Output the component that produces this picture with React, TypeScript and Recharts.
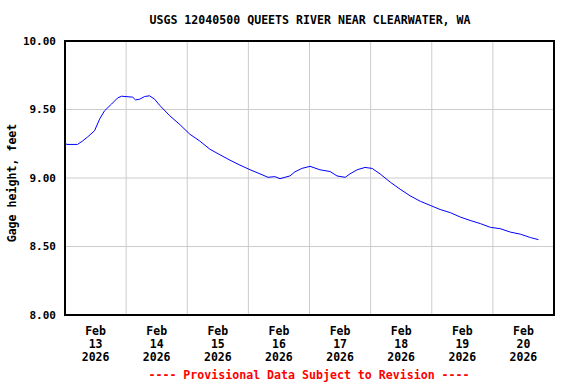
import React from "react";
import {
  LineChart,
  Line,
  XAxis,
  YAxis,
  CartesianGrid,
  ReferenceArea,
} from "recharts";

// Hours since Feb 13 2026 00:00
const hours = [
  0, 0.6, 4.9, 6.9, 8.9, 11.6, 13.6, 15.5, 18.3, 20.7, 22.2, 26.6, 27.7, 29.3,
  31.3, 33.2, 35.2, 37.2, 41.1, 45.1, 49.0, 52.9, 56.9, 60.8, 64.8, 68.7, 72.7,
  76.6, 79.7, 82.4, 84.4, 88.3, 90.3, 93.0, 96.2, 100.1, 104.1, 106.8, 110.0,
  111.9, 114.7, 117.8, 120.6, 123.7, 127.7, 131.6, 135.5, 139.5, 143.4, 147.3,
  151.3, 155.2, 159.1, 163.1, 167.0, 170.9, 174.9, 178.8, 182.8, 185.9,
];
const gage = [
  9.26, 9.245, 9.245, 9.27, 9.3, 9.345, 9.43, 9.49, 9.54, 9.585, 9.597, 9.59,
  9.57, 9.575, 9.595, 9.6, 9.575, 9.53, 9.455, 9.39, 9.32, 9.27, 9.21, 9.17,
  9.13, 9.094, 9.06, 9.03, 9.005, 9.01, 8.995, 9.015, 9.045, 9.07, 9.085, 9.06,
  9.047, 9.015, 9.005, 9.03, 9.06, 9.077, 9.07, 9.03, 8.97, 8.918, 8.87, 8.83,
  8.8, 8.77, 8.747, 8.715, 8.69, 8.667, 8.64, 8.63, 8.605, 8.59, 8.565, 8.55,
];
const dayLabels = ["13", "14", "15", "16", "17", "18", "19", "20"];
const labelTicks = [12, 36, 60, 84, 108, 132, 156, 180];
const gridTicks = [24, 48, 72, 96, 120, 144, 168];
const yTicks = [8, 8.5, 9, 9.5, 10];

const data = hours.map((h, i) => ({ h, v: gage[i] }));

const FONT = "'DejaVu Sans Mono', monospace";

const DateTick = (props: any) => {
  const { x, y, index } = props;
  return (
    <g>
      <text x={x} y={y + 20} textAnchor="middle" fontFamily={FONT} fontWeight="bold" fontSize={11.5} fill="#000">Feb</text>
      <text x={x} y={y + 33} textAnchor="middle" fontFamily={FONT} fontWeight="bold" fontSize={11.5} fill="#000">{dayLabels[index]}</text>
      <text x={x} y={y + 46} textAnchor="middle" fontFamily={FONT} fontWeight="bold" fontSize={11.5} fill="#000">2026</text>
    </g>
  );
};

export default function App() {
  return (
    <div style={{ position: "absolute", left: 0, top: 0, width: 576, height: 384, background: "#fff" }}>
      <div
        style={{
          position: "absolute", left: 0, width: 620, top: 13, textAlign: "center",
          fontFamily: FONT, fontWeight: "bold", fontSize: 11.6, color: "#000", whiteSpace: "pre",
        }}
      >
        USGS 12040500 QUEETS RIVER NEAR CLEARWATER, WA
      </div>
      <div
        style={{
          position: "absolute", left: 12, top: 183, width: 0, height: 0,
        }}
      >
        <div
          style={{
            position: "absolute", transform: "translate(-50%, -50%) rotate(-90deg)",
            fontFamily: FONT, fontWeight: "bold", fontSize: 11.6, color: "#000", whiteSpace: "pre",
          }}
        >
          Gage height, feet
        </div>
      </div>
      <div
        style={{
          position: "absolute", left: 0, width: 618, top: 368, textAlign: "center",
          fontFamily: FONT, fontWeight: "bold", fontSize: 11.6, color: "#ff0000", whiteSpace: "pre",
        }}
      >
        ---- Provisional Data Subject to Revision ----
      </div>
      <LineChart
        width={576}
        height={384}
        data={data}
        margin={{ top: 41, right: 22, bottom: 20, left: 0 }}
        style={{ position: "absolute", left: 0, top: 0 }}
      >
        <CartesianGrid xAxisId="grid" stroke="#cccccc" strokeWidth={1} />
        <XAxis
          xAxisId="grid"
          dataKey="h"
          type="number"
          domain={[0, 192]}
          ticks={gridTicks}
          hide
          allowDataOverflow
        />
        <XAxis
          dataKey="h"
          type="number"
          domain={[0, 192]}
          ticks={labelTicks}
          interval={0}
          axisLine={false}
          tickLine={false}
          tickSize={0}
          tickMargin={0}
          height={49}
          tick={<DateTick />}
          allowDataOverflow
        />
        <YAxis
          type="number"
          domain={[8, 10]}
          ticks={yTicks}
          interval={0}
          width={65}
          axisLine={false}
          tickLine={false}
          tickSize={0}
          tickMargin={9}
          tickFormatter={(v: number) => v.toFixed(2)}
          tick={{ fontFamily: FONT, fontWeight: "bold", fontSize: 11, fill: "#000" }}
        />
        <Line
          dataKey="v"
          type="linear"
          stroke="#0000ff"
          strokeWidth={1}
          dot={false}
          isAnimationActive={false}
        />
        <ReferenceArea x1={0} x2={192} y1={8} y2={10} fill="none" stroke="#000" strokeWidth={2} ifOverflow="visible" />
      </LineChart>
    </div>
  );
}
